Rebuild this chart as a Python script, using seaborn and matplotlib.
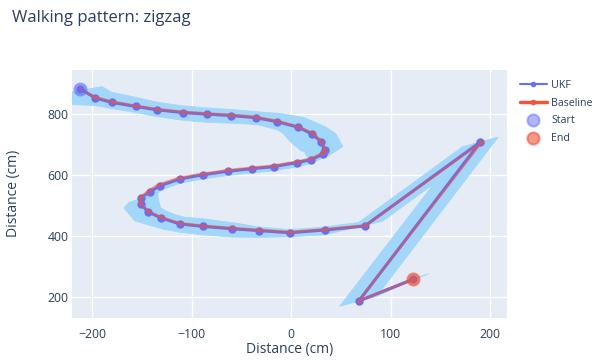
import numpy as np
import matplotlib
matplotlib.use("Agg")
import matplotlib.pyplot as plt
import seaborn as sns

sns.set_theme(style="darkgrid")
plt.rcParams['font.family'] = ['Open Sans', 'DejaVu Sans']

# UKF estimated path (cm)
ukf_x = [-212, -197, -180, -156, -135, -109, -85, -60, -35, -14, 7, 21, 30, 34, 32, 20, 6,
         -17, -39, -63, -89, -112, -132, -142, -151, -151, -144, -131, -112, -89, -59, -32,
         -1, 34, 74, 190, 68, 123]
ukf_y = [882, 852, 837, 824, 813, 804, 799, 794, 787, 774, 756, 734, 709, 680, 668, 649, 640,
         627, 620, 612, 600, 586, 564, 544, 524, 505, 479, 459, 439, 431, 423, 417,
         410, 419, 432, 707, 186, 258]

# Baseline path (cm)
base_x = [-212, -197, -179, -156, -134, -109, -85, -60, -35, -14, 7, 22, 30, 34, 31, 20, 6,
          -17, -39, -63, -89, -112, -133, -143, -151, -152, -144, -131, -112, -89, -59, -32,
          -1, 34, 75, 192, 68, 123]
base_y = [882, 854, 839, 826, 815, 806, 801, 796, 789, 776, 758, 736, 711, 682, 671, 652, 643,
          630, 623, 615, 603, 590, 568, 548, 527, 507, 481, 461, 441, 433, 425, 419,
          412, 421, 434, 709, 187, 258]

# uncertainty band: two edge offsets per UKF point (cm)
band_ax = [-25, 7, 0, 0, 0, 0, 0, 0, 0, 3, 6, 13, 15, 18, 10, 0, 0, 0, 0, 0, 0, 0, 2, 8, 18,
           20, 20, 15, 5, 0, 0, 0, 0, 0, -6, -18, -19, -5]
band_ay = [-20, 37, 33, 30, 25, 22, 20, 20, 20, 27, 32, 24, 26, 13, 3, -12, -14, -14, -14, -14,
           -14, -14, -14, -5, -10, -14, 0, 10, 22, 25, 20, 12, 10, 10, 12, -16, -16, -5]
band_bx = [-20, 0, 0, 0, 0, 0, 0, 0, 0, 0, -15, -22, -20, -20, -18, -3, 0, 0, 0, 0, 0, 0, 0,
           -2, -12, -17, -13, 3, 0, 0, 0, 0, 0, 0, 18, 18, 18, 15]
band_by = [-50, -25, -20, -20, -22, -25, -27, -25, -22, -26, -20, -25, -30, -5, 3, 5, 3, 3, 3,
           3, 3, 3, 3, -14, -15, -14, -30, -38, -27, -28, -27, -22, -13, -16, 16, 16, 16, 18]

blue = '#636EFA'
red = '#EF553B'
band_color = '#a3d7f9'
text_color = '#2a3f5f'

fig = plt.figure(figsize=(5.99, 3.6), dpi=100)
ax = fig.add_axes([0.121, 0.117, 0.7254, 0.689])
ax.set_facecolor('#E5ECF6')

# band drawn as one quad per segment
ux, uy = np.array(ukf_x, float), np.array(ukf_y, float)
ex1, ey1 = ux + band_ax, uy + band_ay
ex2, ey2 = ux + band_bx, uy + band_by
for i in range(len(ux) - 1):
    qx = np.array([ex1[i], ex1[i + 1], ex2[i + 1], ex2[i]])
    qy = np.array([ey1[i], ey1[i + 1], ey2[i + 1], ey2[i]])
    ang = np.arctan2(qy - qy.mean(), (qx - qx.mean()) * 3.3)
    order = np.argsort(ang)
    ax.fill(qx[order], qy[order], color=band_color, lw=0.6, zorder=1)

sns.lineplot(x=ukf_x, y=ukf_y, sort=False, estimator=None, ax=ax, color=blue, lw=2.2,
             marker='o', markersize=6, markeredgewidth=0, label='UKF', zorder=3)
sns.lineplot(x=base_x, y=base_y, sort=False, estimator=None, ax=ax, color=red, lw=2.0,
             alpha=0.5, marker='o', markersize=3.5, markeredgewidth=0, label='Baseline',
             zorder=4)
sns.scatterplot(x=[ukf_x[0]], y=[ukf_y[0]], ax=ax, s=75, color=blue, alpha=0.5,
                edgecolor=blue, linewidth=1.5, label='Start', zorder=5)
sns.scatterplot(x=[ukf_x[-1]], y=[ukf_y[-1]], ax=ax, s=75, color=red, alpha=0.6,
                edgecolor=red, linewidth=1.5, label='End', zorder=5)

ax.set_xlim(-219.7, 217)
ax.set_ylim(131, 944)
ax.set_xticks([-200, -100, 0, 100, 200])
ax.set_yticks([200, 400, 600, 800])
ax.grid(True, color='white', lw=1)
for s in ax.spines.values():
    s.set_visible(False)
ax.tick_params(axis='x', length=0, pad=7, labelsize=8.8, labelcolor=text_color)
ax.tick_params(axis='y', length=0, pad=3, labelsize=8.8, labelcolor=text_color)

ax.set_xlabel('Distance (cm)', fontsize=10, color=text_color, va='center')
ax.set_ylabel('Distance (cm)', fontsize=10, color=text_color, va='center')
ax.xaxis.set_label_coords(0.5, -0.129)
ax.yaxis.set_label_coords(-0.135, 0.5)

fig.text(0.02, 0.95, 'Walking pattern: zigzag', fontsize=12, color=text_color, va='center')

leg = ax.legend(loc='upper left', bbox_to_anchor=(1.015, 0.985), frameon=False, fontsize=7.7,
                labelcolor=text_color, handlelength=2.5, handletextpad=0.45,
                borderaxespad=0.2, labelspacing=0.62)
for h in leg.legend_handles[:2]:
    h.set_alpha(1)
    h.set_markersize(4)
leg.legend_handles[0].set_linewidth(1.5)
leg.legend_handles[1].set_linewidth(2.5)

fig.savefig('out.png', dpi=100)
